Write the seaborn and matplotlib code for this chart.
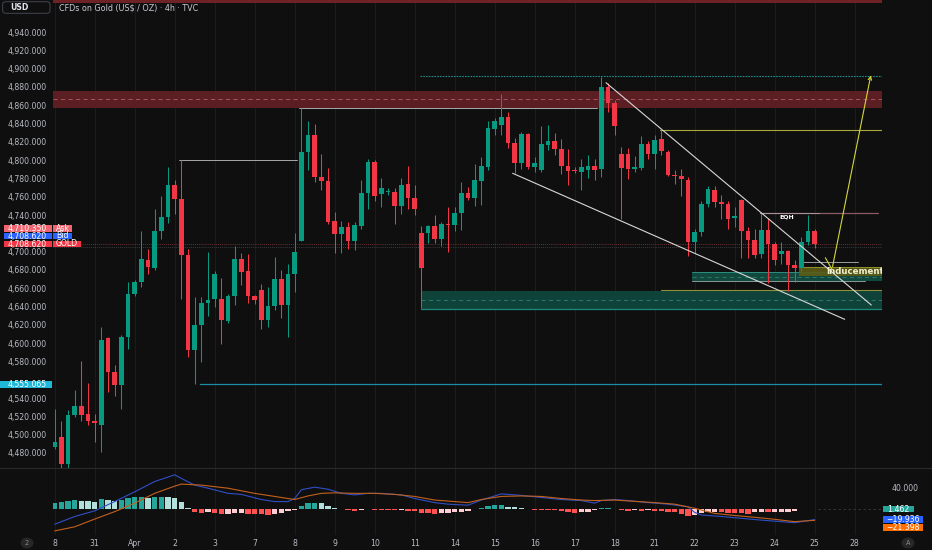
import numpy as np
import pandas as pd
import seaborn as sns
import matplotlib.pyplot as plt
from matplotlib.patches import Rectangle, FancyBboxPatch, Ellipse
from matplotlib.lines import Line2D

sns.set_theme(style="dark")
plt.rcParams['font.family'] = ['DejaVu Sans']

# ---- 4h candles ----
opens = [4486, 4497, 4468, 4521, 4531, 4522, 4515, 4511, 4606, 4568,
         4554, 4607, 4654, 4667, 4691, 4682, 4722, 4738, 4773, 4758,
         4696, 4593, 4620, 4644, 4648, 4648, 4624, 4651, 4692, 4679,
         4651, 4658, 4625, 4641, 4670, 4642, 4675, 4712, 4809, 4827,
         4782, 4777, 4733, 4719, 4727, 4712, 4728, 4764, 4798, 4763,
         4765, 4765, 4750, 4774, 4759, 4720, 4720, 4728, 4714, 4730,
         4729, 4742, 4764, 4759, 4777, 4793, 4834, 4838, 4847, 4819,
         4797, 4828, 4792, 4789, 4816, 4821, 4812, 4794, 4789, 4787,
         4789, 4794, 4790, 4880, 4862, 4807, 4807, 4790, 4791, 4818,
         4807, 4823, 4809, 4784, 4783, 4778, 4710, 4721, 4752, 4767,
         4754, 4752, 4737, 4756, 4723, 4713, 4697, 4724, 4708, 4697,
         4701, 4685, 4682, 4711, 4722]
highs = [4528, 4515, 4527, 4549, 4580, 4556, 4523, 4618, 4607, 4576,
         4609, 4667, 4669, 4723, 4703, 4747, 4761, 4792, 4778, 4800,
         4703, 4650, 4650, 4700, 4679, 4671, 4654, 4706, 4698, 4697,
         4653, 4665, 4661, 4694, 4680, 4687, 4720, 4857, 4843, 4839,
         4807, 4791, 4743, 4734, 4732, 4732, 4778, 4801, 4800, 4780,
         4770, 4769, 4781, 4794, 4773, 4728, 4729, 4740, 4732, 4749,
         4749, 4776, 4771, 4796, 4803, 4843, 4846, 4872, 4853, 4824,
         4831, 4830, 4803, 4837, 4838, 4830, 4823, 4812, 4792, 4801,
         4806, 4801, 4891, 4884, 4866, 4814, 4813, 4805, 4826, 4821,
         4827, 4833, 4811, 4789, 4790, 4782, 4725, 4755, 4772, 4772,
         4762, 4755, 4749, 4757, 4727, 4725, 4743, 4737, 4710, 4710,
         4702, 4691, 4716, 4740, 4725]
lows = [4484, 4464, 4464, 4519, 4515, 4510, 4492, 4481, 4547, 4542,
        4528, 4594, 4652, 4661, 4676, 4680, 4714, 4731, 4741, 4648,
        4585, 4555, 4579, 4630, 4639, 4599, 4622, 4642, 4663, 4644,
        4643, 4615, 4618, 4636, 4627, 4607, 4656, 4712, 4789, 4776,
        4767, 4730, 4698, 4698, 4703, 4702, 4725, 4747, 4755, 4749,
        4762, 4730, 4741, 4747, 4740, 4638, 4709, 4709, 4706, 4700,
        4723, 4724, 4756, 4750, 4751, 4789, 4827, 4827, 4813, 4786,
        4790, 4790, 4787, 4787, 4811, 4806, 4785, 4773, 4786, 4767,
        4780, 4778, 4782, 4853, 4827, 4736, 4779, 4787, 4789, 4801,
        4790, 4806, 4783, 4774, 4761, 4695, 4699, 4717, 4749, 4749,
        4736, 4725, 4727, 4693, 4693, 4693, 4693, 4666, 4685, 4687,
        4657, 4667, 4679, 4707, 4704]
closes = [4492, 4468, 4521, 4531, 4521, 4515, 4513, 4603, 4568, 4554,
          4607, 4654, 4667, 4692, 4683, 4722, 4738, 4773, 4758, 4696,
          4593, 4620, 4644, 4647, 4676, 4625, 4651, 4692, 4678, 4651,
          4647, 4625, 4641, 4670, 4642, 4675, 4700, 4809, 4827, 4782,
          4777, 4732, 4719, 4727, 4712, 4729, 4764, 4798, 4761, 4769,
          4766, 4750, 4773, 4759, 4747, 4682, 4728, 4714, 4730, 4729,
          4742, 4764, 4759, 4778, 4794, 4835, 4843, 4847, 4819, 4797,
          4828, 4792, 4797, 4818, 4821, 4812, 4794, 4788, 4788, 4792,
          4794, 4789, 4880, 4862, 4837, 4791, 4790, 4793, 4818, 4807,
          4822, 4810, 4784, 4783, 4779, 4711, 4721, 4752, 4768, 4754,
          4752, 4736, 4739, 4723, 4713, 4696, 4724, 4708, 4691, 4701,
          4685, 4682, 4711, 4722, 4708.62]

# ---- MACD pane ----
hist = [13, 14, 17, 18, 17, 16, 15, 20, 19, 17,
        19, 21, 23, 23, 22, 24, 24, 23, 21, 15,
        2, -6, -6.5, -5.5, -8, -10, -9, -8, -7, -9,
        -9.5, -10, -10.5, -9, -8, -4, -1.5, 6, 12, 13,
        12, 7, 3, 1, -2, -3, -2, 0.8, -1, -1.2,
        -2, -2.2, -2, -3, -4, -7, -8, -8.5, -8, -7,
        -6, -4.5, -3, 1, 3, 6, 8, 8.5, 5, 4,
        2, 0.5, -0.5, -1, -1.5, -2, -4, -6, -6.5, -5,
        -5, -1, 2, 3, 0.5, -1, -3, -2, -3, -2,
        -3, -4, -5, -6, -10, -13, -11, -7, -6, -5.5,
        -6, -6.5, -7, -8, -8.5, -6, -5, -6, -5, -4.8,
        -4.5, -3, 1, 1.5, 1.462]
macd_idx = [0, 3, 6, 9, 12, 15, 18, 19, 21, 23, 26, 28, 31, 33, 35, 36, 37, 39,
            41, 43, 45, 47, 49, 52, 54, 57, 59, 62, 64, 67, 70, 73, 76, 79, 81,
            82, 84, 86, 89, 92, 95, 96, 97, 100, 103, 106, 109, 111, 114]
macd_vals = [-29, -14, -3, 15, 34, 54, 67, 60, 47, 41, 31, 29, 19, 15, 15, 21, 38, 43,
             39, 31, 28, 31, 31, 28, 21, 13, 10, 8, 18, 30, 27, 23, 19, 17, 12,
             17, 19, 17, 13, 10, 5, -6, -11, -14, -17.5, -21, -24, -26, -19.936]
signal_idx = [0, 3, 6, 9, 12, 15, 18, 19, 22, 26, 30, 33, 36, 38, 40, 42, 45, 48, 51,
              54, 57, 60, 62, 64, 67, 70, 73, 76, 79, 81, 84, 87, 90, 93, 96, 99,
              102, 105, 108, 111, 114]
signal_vals = [-42, -34, -19, -4.5, 12, 31, 45, 49, 47, 41, 31, 25, 19, 26, 31, 32, 31, 31, 29,
               25, 18, 15, 13, 19, 25, 26, 25, 21, 18, 17, 18, 15.5, 13, 10, 2, -8,
               -12, -15.5, -19.4, -24, -21.398]

day_labels = ["8", "31", "Apr", "2", "3", "7", "8", "9", "10", "11", "14",
              "15", "16", "17", "18", "21", "22", "23", "24", "25", "28"]
price_ticks = list(range(4480, 4941, 20))
hidden_ticks = [4560, 4720]   # covered by the price tags in the reference

# ---- drawings (price levels / candle positions) ----
supply_zone = (4857.3, 4875.5)
demand_zone = (4637.0, 4657.0, 55)
small_zone = (4667.5, 4678.0, 95.6)
inducement_zone = (4673.3, 4683.5, 111.7)
eqh = (4741.9, 105.8)
yellow_level = (4832.9, 90.8)
top_level = (4892.2, 54.8)
swing_levels = [(4799.6, 18.65, 36.4), (4857.3, 36.7, 81.3)]
low_level = (4555.065, 21.8)
wedge_upper = ([82.7, 122.5], [4884.6, 4641.6])
wedge_lower = ([68.7, 118.5], [4785.6, 4626.0])
arrow_path = ([115.6, 116.6, 122.5], [4693.3, 4680.6, 4895.5])

W, H = 932, 550
L, R = 53, 882
bg = '#0f0f0f'
txt = '#b8bbc4'
xr = 124.1

fig = plt.figure(figsize=(W / 100, H / 100), dpi=100, facecolor=bg)
ax = fig.add_axes([L / W, 1 - 468 / H, (R - L) / W, 468 / H])
axm = fig.add_axes([L / W, 1 - 535 / H, (R - L) / W, 66 / H])
day_ticks = [6 * k for k in range(len(day_labels))]
for a in (ax, axm):
    a.set_facecolor(bg)
    for s in a.spines.values():
        s.set_visible(False)
    a.set_xlim(-0.25, xr)
    a.set_xticks(day_ticks)
    a.grid(axis='x', color='#1c1c1c', lw=0.8)
    a.grid(axis='y', visible=False)
ax.set_ylim(4463.5, 4975)
axm.set_ylim(-49.9, 78.3)
ax.tick_params(axis='x', labelbottom=False, length=0)
ax.set_yticks(price_ticks)
ax.set_yticklabels(["" if p in hidden_ticks else f"{p:,.3f}" for p in price_ticks])
ax.tick_params(axis='y', length=0, pad=4.3, labelsize=5.6, colors=txt)
axm.set_yticks([])
axm.set_xticklabels(day_labels)
axm.tick_params(axis='x', length=0, pad=3, labelsize=5.6, colors=txt)

# zones and levels
ax.axhspan(4971.5, 4976, color='#6e2226', lw=0)
ax.axhspan(*supply_zone, color='#5a1e23', lw=0, zorder=1)
ax.axhline(sum(supply_zone) / 2, color='#b35c66', lw=0.6, ls=(0, (5, 4)), zorder=1)
for lo, hi, x0, fc in [(demand_zone[0], demand_zone[1], demand_zone[2], '#0f4239'),
                       (small_zone[0], small_zone[1], small_zone[2], '#11493f')]:
    ax.add_patch(Rectangle((x0, lo), xr - x0, hi - lo, fc=fc, lw=0, zorder=1))
    ax.plot([x0, xr], [(lo + hi) / 2] * 2, color='#2f7f72', lw=0.6, ls=(0, (5, 4)), zorder=1)
ax.plot([demand_zone[2], xr], [demand_zone[0]] * 2, color='#1d8a7c', lw=0.9, zorder=2)
ax.plot([small_zone[2], xr], [small_zone[1]] * 2, color='#2a8f80', lw=0.7, zorder=2)
ax.plot([small_zone[2], 121.6], [4667.9] * 2, color='#8a9a96', lw=0.7, zorder=2)
lo, hi, x0 = inducement_zone
ax.add_patch(Rectangle((x0, lo), xr - x0, hi - lo, fc='#5c5c16', alpha=0.9, lw=0, zorder=2))
ax.plot([x0, xr], [hi] * 2, color='#9a9a30', lw=0.6, zorder=2)
ax.plot([x0, 120.5], [4689] * 2, color='#9aa0a0', lw=0.7, zorder=2)
ax.text(115.8, (lo + hi) / 2, "Inducement", color='#f4f1d0', fontsize=6.2,
        fontweight='bold', va='center', ha='left', clip_on=True, zorder=6)
ax.plot([91, xr], [4657.5] * 2, color='#8f8f35', lw=0.8, zorder=2)

ax.plot([eqh[1], xr - 0.6], [eqh[0]] * 2, color='#8c5a66', lw=0.9, zorder=2)
ax.plot([eqh[1], 114.6], [eqh[0] + 0.5] * 2, color='#a9a0a4', lw=0.6, zorder=2)
ax.text(109.8, eqh[0] - 1.5, "EQH", color='white', fontsize=4.5, fontweight='bold',
        ha='center', va='top', zorder=6)
ax.plot([yellow_level[1], xr], [yellow_level[0]] * 2, color='#a8a83c', lw=0.8, zorder=2)
ax.plot([top_level[1], xr], [top_level[0]] * 2, color='#1f8a8a', lw=0.8, ls=(0, (1.5, 1)), zorder=2)
for lvl, a0, a1 in swing_levels:
    ax.plot([a0, a1], [lvl, lvl], color='#a8a8a8', lw=0.7, zorder=2)
ax.plot([low_level[1], xr], [low_level[0]] * 2, color='#1a8ea3', lw=0.9, zorder=2)
ax.axhline(4708.62, color='#8a3a40', lw=0.6, ls=(0, (1, 1.5)), zorder=1)
ax.axhline(4704.5, color='#4a4a4a', lw=0.6, ls=(0, (1, 1.5)), zorder=1)

# candles
df = pd.DataFrame({'open': opens, 'high': highs, 'low': lows, 'close': closes})
df['i'] = np.arange(len(df))
col = np.where(df['close'] >= df['open'], '#089981', '#f23645')
ax.vlines(df['i'], df['low'], df['high'], colors=col, lw=0.75, zorder=3)
body = (df['close'] - df['open']).abs().clip(lower=0.9)
ax.bar(df['i'], body, bottom=df[['open', 'close']].min(axis=1), width=0.66,
       color=col, lw=0, zorder=4)

# wedge + arrow
ax.plot(*wedge_upper, color='#d8d8d8', lw=0.8, zorder=5)
ax.plot(*wedge_lower, color='#d8d8d8', lw=0.8, zorder=5)
ax.plot(arrow_path[0][:2], arrow_path[1][:2], color='#d6d63a', lw=0.8, zorder=6)
ax.annotate("", xy=(arrow_path[0][2], arrow_path[1][2]),
            xytext=(arrow_path[0][1], arrow_path[1][1]),
            arrowprops=dict(arrowstyle='->', color='#d6d63a', lw=0.8,
                            mutation_scale=6), zorder=6)

# MACD
h = pd.Series(hist)
prev = h.shift(1).fillna(h.iloc[0])
hc = np.where(h >= 0, np.where(h >= prev, '#26a69a', '#b2dfdb'),
              np.where(h < prev, '#ff5252', '#ffcdd2'))
axm.bar(df['i'], h, width=0.8, color=hc, lw=0, zorder=2)
sns.lineplot(x=macd_idx, y=macd_vals, ax=axm, color='#2f4fc8', lw=0.8, zorder=3)
sns.lineplot(x=signal_idx, y=signal_vals, ax=axm, color='#c2611c', lw=0.8, zorder=3)
axm.plot([114.5, xr], [0, 0], color='#3a3a3a', lw=0.6, ls=(0, (3, 3)))
axm.set_xlim(-0.25, xr)
axm.set_ylim(-49.9, 78.3)


# ---- overlay labels in pixel positions ----
def box(x0, y0, x1, y1, fc, text=None, tc='white', fs=5.6, tx=None, ha='left', bold=False):
    fig.add_artist(Rectangle((x0 / W, 1 - y1 / H), (x1 - x0) / W, (y1 - y0) / H,
                             transform=fig.transFigure, fc=fc, lw=0, zorder=5))
    if text:
        fig.text((tx if tx is not None else x0 + 2) / W, 1 - (y0 + y1) / 2 / H, text,
                 color=tc, fontsize=fs, ha=ha, va='center', zorder=6,
                 fontweight='bold' if bold else 'normal')


box(4, 225, 52, 231.7, '#f06570', "4,710.350", tx=47, ha='right')
box(52.7, 225, 71.7, 231.7, '#f06570', "Ask", tx=56)
box(4, 232.7, 52, 239.3, '#2962ff', "4,708.620", tx=47, ha='right')
box(52.7, 232.7, 71.7, 239.3, '#2962ff', "Bid", tx=56)
box(4, 240.7, 52, 247.3, '#f23645', "4,708.620", tx=47, ha='right')
box(52.7, 240.7, 80.7, 247.3, '#f23645', "GOLD", tx=56)
box(0, 381, 52, 388.3, '#1fb8d8', "4,555.065", tx=47, ha='right')

fig.text(905 / W, 1 - 488.7 / H, "40.000", color=txt, fontsize=5.6, ha='center', va='center')
box(882.7, 505.7, 914, 512.3, '#26a69a', "1.462", tx=898, ha='center')
box(882.7, 516, 923.3, 523.3, '#2962ff', "\u221219.936", tx=903, ha='center')
box(882.7, 524.3, 923.3, 531, '#ff6d00', "\u221221.398", tx=903, ha='center')

fig.add_artist(FancyBboxPatch((2.7 / W, 1 - 13.3 / H), 47.3 / W, 11.6 / H,
                              boxstyle='round,pad=0,rounding_size=0.004',
                              transform=fig.transFigure, fc=bg, ec='#434651', lw=0.7))
fig.text(10 / W, 1 - 7.5 / H, "USD", color='#e0e3eb', fontsize=5.6, fontweight='bold',
         va='center')
fig.text(59 / W, 1 - 7.5 / H, "CFDs on Gold (US$ / OZ) \u00b7 4h \u00b7 TVC",
         color='#c8cbd3', fontsize=5.8, va='center')

fig.add_artist(Line2D([0, 1], [1 - 468 / H] * 2, color='#2a2a2a', lw=0.8))
for cx, t in [(27, "2"), (908, "A")]:
    fig.add_artist(Ellipse((cx / W, 1 - 543 / H), 13 / W, 11 / H,
                           transform=fig.transFigure, fc='#262626', lw=0))
    fig.text(cx / W, 1 - 543 / H, t, color='#8a8d95', fontsize=4.8, ha='center', va='center')

fig.savefig("out.png", dpi=100, facecolor=bg)
